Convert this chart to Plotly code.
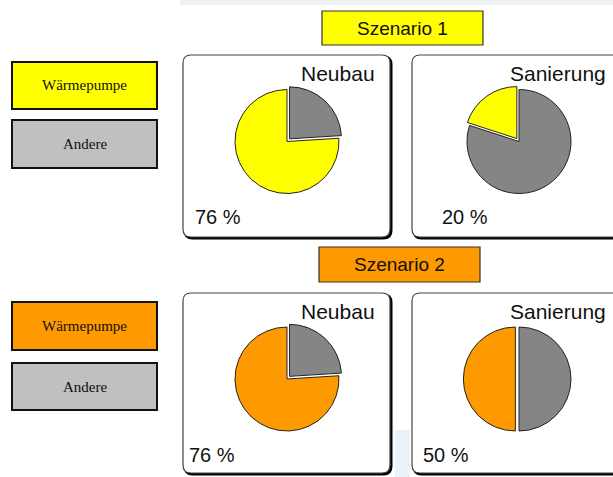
import plotly.graph_objects as go

# data
scenarios = ["Szenario 1", "Szenario 2"]
buildings = ["Neubau", "Sanierung"]
categories = ["Wärmepumpe", "Andere"]
heatpump_share = {"Szenario 1": [76, 20], "Szenario 2": [76, 50]}
other_share = {"Szenario 1": [24, 80], "Szenario 2": [24, 50]}

W, H = 613, 477
SCEN_COLORS = {"Szenario 1": "#FFFF00", "Szenario 2": "#FF9900"}
SLICE_GRAY = "#858585"
LEGEND_GRAY = "#C0C0C0"
FONT = "Liberation Sans, Arial, sans-serif"
SERIF = "Liberation Serif, Times New Roman, serif"

# layout in pixels
COL_CX = [287, 519]         # pie centres
PIE_CY = 141.5
PIE_R = 52
PULL = 0.07
PANEL_X = [(183, 390), (412, 625)]
PCT_X = [[193, 440], [187, 421]]


def px(x):
    return x / W


def py(y):
    return 1 - y / H


def rounded_path(x0, y0, x1, y1, r):
    pts = [
        f"M {px(x0 + r)},{py(y0)}",
        f"L {px(x1 - r)},{py(y0)}",
        f"Q {px(x1)},{py(y0)} {px(x1)},{py(y0 + r)}",
        f"L {px(x1)},{py(y1 - r)}",
        f"Q {px(x1)},{py(y1)} {px(x1 - r)},{py(y1)}",
        f"L {px(x0 + r)},{py(y1)}",
        f"Q {px(x0)},{py(y1)} {px(x0)},{py(y1 - r)}",
        f"L {px(x0)},{py(y0 + r)}",
        f"Q {px(x0)},{py(y0)} {px(x0 + r)},{py(y0)}",
        "Z",
    ]
    return " ".join(pts)


fig = go.Figure()
shapes = []
annotations = []

# faint strips in the background
shapes.append(dict(type="rect", xref="paper", yref="paper",
                   x0=px(180), x1=1, y0=py(5), y1=1,
                   fillcolor="#eef2f6", line=dict(width=0), layer="below"))
shapes.append(dict(type="rect", xref="paper", yref="paper",
                   x0=px(395), x1=px(410), y0=0, y1=py(430),
                   fillcolor="#e9f3f9", line=dict(width=0), layer="below"))

side = 2 * PIE_R * (1 + PULL)
for si, scen in enumerate(scenarios):
    color = SCEN_COLORS[scen]

    # scenario title box
    tx0, tx1 = (322, 483) if si == 0 else (319, 480)
    ty0, ty1 = (11, 45) if si == 0 else (247, 282)
    shapes.append(dict(type="rect", xref="paper", yref="paper",
                       x0=px(tx0), x1=px(tx1), y0=py(ty1), y1=py(ty0),
                       fillcolor=color, line=dict(color="#333333", width=1.2)))
    annotations.append(dict(text=scen, xref="paper", yref="paper",
                            x=px((tx0 + tx1) / 2), y=py((ty0 + ty1) / 2),
                            showarrow=False, xanchor="center", yanchor="middle",
                            font=dict(family=FONT, size=19, color="#111111")))

    # legend boxes
    leg_y = [(62, 109), (120, 168)] if si == 0 else [(302, 350), (363, 410)]
    for ci, cat in enumerate(categories):
        y0, y1 = leg_y[ci]
        fill = color if ci == 0 else LEGEND_GRAY
        shapes.append(dict(type="rect", xref="paper", yref="paper",
                           x0=px(12), x1=px(157), y0=py(y1), y1=py(y0),
                           fillcolor=fill, line=dict(color="#111111", width=2)))
        annotations.append(dict(text=cat, xref="paper", yref="paper",
                                x=px(84.5), y=py((y0 + y1) / 2),
                                showarrow=False, xanchor="center", yanchor="middle",
                                font=dict(family=SERIF, size=15, color="#111111")))

    pan_y0, pan_y1 = (55, 237) if si == 0 else (293, 473)
    for bi, bld in enumerate(buildings):
        x0, x1 = PANEL_X[bi]
        # shadow then panel
        shapes.append(dict(type="path", xref="paper", yref="paper",
                           path=rounded_path(x0 + 1.5, pan_y0 + 1.5, x1 + 1.5, pan_y1 + 1.5, 8),
                           fillcolor="#000000", line=dict(color="#000000", width=2),
                           layer="below"))
        shapes.append(dict(type="path", xref="paper", yref="paper",
                           path=rounded_path(x0, pan_y0, x1, pan_y1, 8),
                           fillcolor="white", line=dict(color="#444444", width=1.2),
                           layer="below"))

        title_right = 377 if bi == 0 else 608
        annotations.append(dict(text=bld, xref="paper", yref="paper",
                                x=px(title_right), y=py(pan_y0 + 18),
                                showarrow=False, xanchor="right", yanchor="middle",
                                font=dict(family=FONT, size=21, color="#111111")))

        wp = heatpump_share[scen][bi]
        ot = other_share[scen][bi]
        annotations.append(dict(text=f"{wp} %", xref="paper", yref="paper",
                                x=px(PCT_X[si][bi]), y=py(pan_y0 + 162),
                                showarrow=False, xanchor="left", yanchor="middle",
                                font=dict(family=FONT, size=20, color="#111111")))

        cx = COL_CX[bi]
        cy = PIE_CY + (si * 237.5)
        # "Andere" starts at 12 o'clock going clockwise
        pull = [PULL, 0] if bi == 0 else [0, PULL]
        fig.add_trace(go.Pie(
            labels=categories[::-1],
            values=[ot, wp],
            sort=False,
            direction="clockwise",
            rotation=0,
            pull=pull,
            textinfo="none",
            hoverinfo="label+percent",
            showlegend=False,
            marker=dict(colors=[SLICE_GRAY, color], line=dict(color="#222222", width=1)),
            domain=dict(x=[px(cx - side / 2), px(cx + side / 2)],
                        y=[py(cy + side / 2), py(cy - side / 2)]),
        ))

fig.update_layout(
    width=W,
    height=H,
    margin=dict(l=0, r=0, t=0, b=0),
    paper_bgcolor="white",
    plot_bgcolor="white",
    shapes=shapes,
    annotations=annotations,
)
fig.write_html("out.html", config={"displayModeBar": False},
               post_script="document.body.style.margin='0';")
